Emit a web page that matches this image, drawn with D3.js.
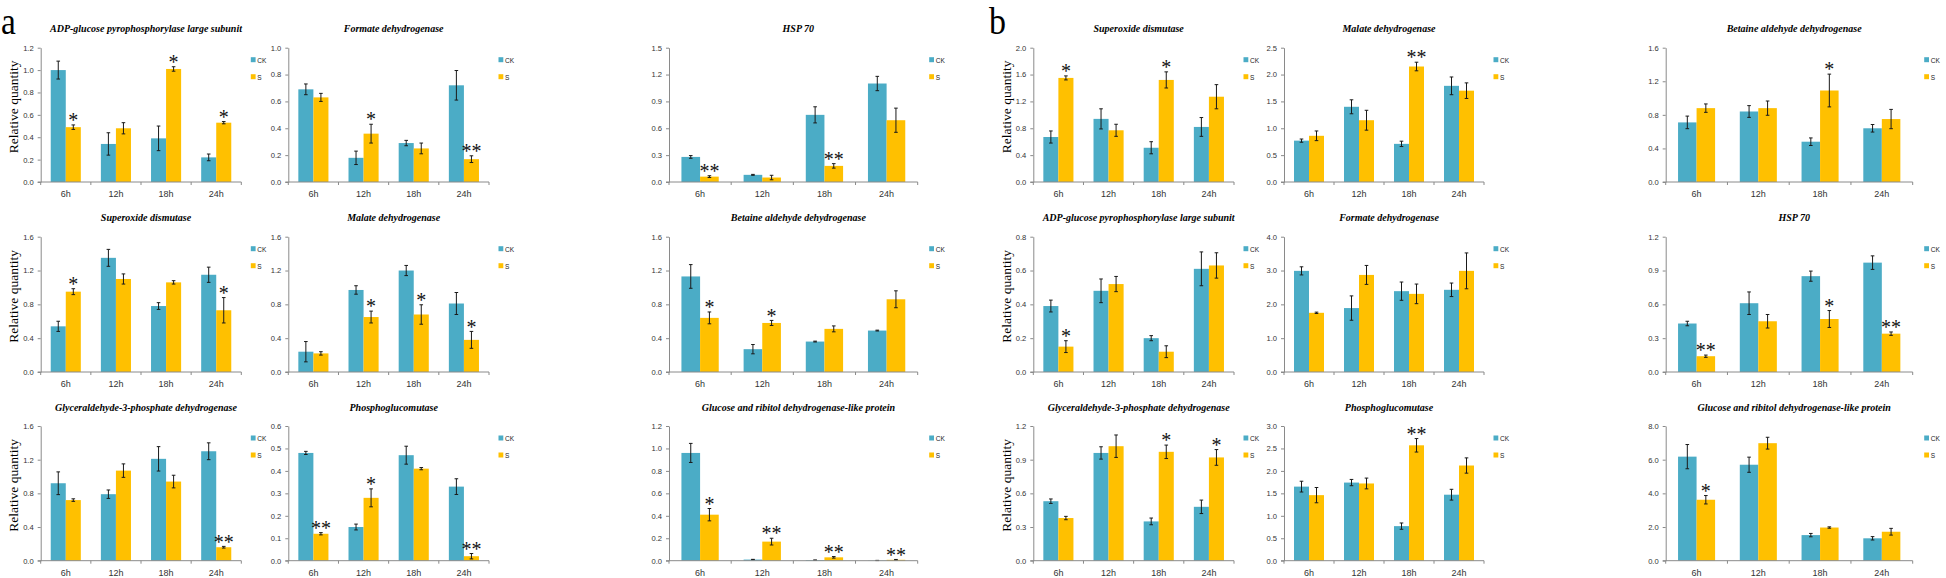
<!DOCTYPE html>
<html>
<head>
<meta charset="utf-8">
<script src="https://cdn.jsdelivr.net/npm/d3@7"></script>
<style>
  html, body { margin: 0; padding: 0; background: #fff; }
  svg { display: block; }
</style>
</head>
<body>
<script>
// ---------------- DATA ----------------
const categories = ["6h", "12h", "18h", "24h"];
const seriesNames = ["CK", "S"];
const partLabels = ["a", "b"];

const panelTitles = [
  "ADP-glucose pyrophosphorylase large subunit", "Formate dehydrogenase", "HSP 70",
  "Superoxide dismutase", "Malate dehydrogenase", "Betaine aldehyde dehydrogenase",
  "Glyceraldehyde-3-phosphate dehydrogenase", "Phosphoglucomutase", "Glucose and ribitol dehydrogenase-like protein",
  "Superoxide dismutase", "Malate dehydrogenase", "Betaine aldehyde dehydrogenase",
  "ADP-glucose pyrophosphorylase large subunit", "Formate dehydrogenase", "HSP 70",
  "Glyceraldehyde-3-phosphate dehydrogenase", "Phosphoglucomutase", "Glucose and ribitol dehydrogenase-like protein"
];

const axisMax  = [1.2, 1.0, 1.5, 1.6, 1.6, 1.6, 1.6, 0.6, 1.2,
                  2.0, 2.5, 1.6, 0.8, 4.0, 1.2, 1.2, 3.0, 8.0];
const axisStep = [0.2, 0.2, 0.3, 0.4, 0.4, 0.4, 0.4, 0.1, 0.2,
                  0.4, 0.5, 0.4, 0.2, 1.0, 0.3, 0.3, 0.5, 2.0];

const ckValues = [
  [1.00, 0.34, 0.39, 0.22],
  [0.69, 0.18, 0.29, 0.72],
  [0.28, 0.08, 0.75, 1.10],
  [0.54, 1.35, 0.78, 1.15],
  [0.24, 0.97, 1.20, 0.81],
  [1.13, 0.27, 0.36, 0.49],
  [0.92, 0.79, 1.21, 1.30],
  [0.48, 0.15, 0.47, 0.33],
  [0.96, 0.010, 0.005, 0.002],
  [0.67, 0.94, 0.51, 0.82],
  [0.77, 1.40, 0.71, 1.79],
  [0.71, 0.84, 0.48, 0.64],
  [0.39, 0.48, 0.20, 0.61],
  [2.99, 1.89, 2.39, 2.43],
  [0.43, 0.61, 0.85, 0.97],
  [0.53, 0.96, 0.35, 0.48],
  [1.65, 1.74, 0.77, 1.47],
  [6.18, 5.70, 1.52, 1.33]
];
const ckErrors = [
  [0.08, 0.10, 0.11, 0.03],
  [0.04, 0.05, 0.02, 0.11],
  [0.015, 0.005, 0.09, 0.08],
  [0.06, 0.10, 0.04, 0.09],
  [0.12, 0.05, 0.06, 0.13],
  [0.14, 0.055, 0.005, 0.005],
  [0.135, 0.05, 0.145, 0.10],
  [0.007, 0.013, 0.04, 0.035],
  [0.085, 0.002, 0.001, 0.001],
  [0.09, 0.15, 0.09, 0.14],
  [0.03, 0.13, 0.05, 0.165],
  [0.075, 0.07, 0.045, 0.045],
  [0.035, 0.07, 0.015, 0.10],
  [0.12, 0.36, 0.27, 0.20],
  [0.02, 0.10, 0.045, 0.06],
  [0.02, 0.055, 0.03, 0.06],
  [0.12, 0.07, 0.07, 0.12],
  [0.72, 0.45, 0.10, 0.10]
];
const sValues = [
  [0.49, 0.48, 1.01, 0.53],
  [0.63, 0.36, 0.25, 0.17],
  [0.06, 0.05, 0.18, 0.69],
  [0.95, 1.10, 1.06, 0.73],
  [0.22, 0.65, 0.68, 0.38],
  [0.64, 0.58, 0.51, 0.86],
  [0.72, 1.07, 0.94, 0.16],
  [0.12, 0.28, 0.41, 0.02],
  [0.41, 0.17, 0.03, 0.008],
  [1.55, 0.77, 1.52, 1.27],
  [0.86, 1.15, 2.15, 1.70],
  [0.88, 0.88, 1.09, 0.75],
  [0.15, 0.52, 0.12, 0.63],
  [1.75, 2.87, 2.31, 2.99],
  [0.14, 0.45, 0.47, 0.34],
  [0.38, 1.02, 0.97, 0.92],
  [1.46, 1.72, 2.57, 2.12],
  [3.62, 6.98, 1.97, 1.72]
];
const sErrors = [
  [0.02, 0.05, 0.02, 0.01],
  [0.03, 0.07, 0.04, 0.025],
  [0.01, 0.025, 0.025, 0.135],
  [0.035, 0.06, 0.02, 0.15],
  [0.02, 0.07, 0.115, 0.10],
  [0.07, 0.03, 0.035, 0.10],
  [0.015, 0.08, 0.075, 0.01],
  [0.005, 0.04, 0.005, 0.012],
  [0.055, 0.03, 0.007, 0.003],
  [0.03, 0.09, 0.12, 0.18],
  [0.09, 0.185, 0.08, 0.145],
  [0.05, 0.085, 0.195, 0.115],
  [0.035, 0.045, 0.035, 0.075],
  [0.02, 0.28, 0.29, 0.53],
  [0.01, 0.06, 0.075, 0.015],
  [0.015, 0.10, 0.06, 0.07],
  [0.17, 0.12, 0.15, 0.17],
  [0.25, 0.35, 0.04, 0.20]
];
const sMarks = [
  ["*", "", "*", "*"],
  ["", "*", "", "**"],
  ["**", "", "**", ""],
  ["*", "", "", "*"],
  ["", "*", "*", "*"],
  ["*", "*", "", ""],
  ["", "", "", "**"],
  ["**", "*", "", "**"],
  ["*", "**", "**", "**"],
  ["*", "", "*", ""],
  ["", "", "**", ""],
  ["", "", "*", ""],
  ["*", "", "", ""],
  ["", "", "", ""],
  ["**", "", "*", "**"],
  ["", "", "*", "*"],
  ["", "", "**", ""],
  ["*", "", "", ""]
];

// ---------------- LAYOUT ----------------
const W = 1946, H = 578;
const colX = [[40.7, 241.3], [288.3, 489], [669, 917.7], [1033.3, 1234], [1284, 1484], [1665.7, 1912.7]];
const rowY = [[47.7, 182], [236.7, 372], [426, 560.7]];
const colors = { CK: "#4BACC6", S: "#FFC000" };
const axisColor = "#8a8a8a";

const svg = d3.select("body").append("svg").attr("width", W).attr("height", H)
  .style("background", "#fff");

// part letters
[[1, partLabels[0], 0.9], [989, partLabels[1], 0.92]].forEach(([lx, t, sx]) => {
  svg.append("text")
    .attr("transform", `translate(${lx},33.5) scale(${sx},1)`)
    .attr("font-family", "Liberation Serif").attr("font-size", 37).attr("fill", "#000")
    .text(t);
});

panelTitles.forEach((title, p) => {
  const part = Math.floor(p / 9);
  const within = p % 9;
  const row = Math.floor(within / 3);
  const col = (within % 3) + part * 3;
  const [x0, x1] = colX[col];
  const [yt, yb] = rowY[row];

  const g = svg.append("g");

  const x = d3.scaleBand().domain(categories).range([x0, x1]).paddingInner(0.4).paddingOuter(0.2);
  const xs = d3.scaleBand().domain(seriesNames).range([0, x.bandwidth()]);
  const y = d3.scaleLinear().domain([0, axisMax[p]]).range([yb, yt]);
  const ticks = d3.range(0, axisMax[p] + axisStep[p] / 2, axisStep[p]);

  const rows = [];
  categories.forEach((c, i) => {
    rows.push({ c, s: "CK", v: ckValues[p][i], e: ckErrors[p][i], m: "" });
    rows.push({ c, s: "S", v: sValues[p][i], e: sErrors[p][i], m: sMarks[p][i] });
  });
  const bx = d => x(d.c) + xs(d.s) + xs.bandwidth() / 2;

  // bars
  g.selectAll("rect.bar").data(rows).join("rect")
    .attr("class", "bar")
    .attr("x", d => x(d.c) + xs(d.s))
    .attr("width", xs.bandwidth())
    .attr("y", d => y(d.v))
    .attr("height", d => y(0) - y(d.v))
    .attr("fill", d => colors[d.s]);

  // error bars
  const cap = 1.8;
  const eg = g.selectAll("g.err").data(rows).join("g").attr("class", "err")
    .attr("stroke", "#1a1a1a").attr("stroke-width", 1);
  eg.append("line")
    .attr("x1", bx).attr("x2", bx)
    .attr("y1", d => y(Math.max(0, d.v - d.e)))
    .attr("y2", d => y(d.v + d.e));
  eg.append("line")
    .attr("x1", d => bx(d) - cap).attr("x2", d => bx(d) + cap)
    .attr("y1", d => y(d.v + d.e)).attr("y2", d => y(d.v + d.e));
  eg.append("line")
    .attr("x1", d => bx(d) - cap).attr("x2", d => bx(d) + cap)
    .attr("y1", d => y(Math.max(0, d.v - d.e))).attr("y2", d => y(Math.max(0, d.v - d.e)));

  // significance marks
  g.selectAll("text.mark").data(rows.filter(d => d.m)).join("text")
    .attr("class", "mark")
    .attr("x", bx)
    .attr("y", d => y(d.v + d.e) + 2.2)
    .attr("text-anchor", "middle")
    .attr("font-family", "Liberation Serif")
    .attr("font-size", 20)
    .attr("fill", "#111")
    .text(d => d.m);

  // y axis
  const ya = g.append("g").attr("transform", `translate(${x0},0)`)
    .call(d3.axisLeft(y).tickValues(ticks).tickFormat(d3.format(".1f")).tickSize(3).tickSizeOuter(0).tickPadding(4));
  ya.select(".domain").attr("stroke", axisColor);
  ya.selectAll(".tick line").attr("stroke", axisColor);
  ya.selectAll(".tick text").attr("font-family", "Liberation Sans").attr("font-size", 7.6).attr("fill", "#333");

  // x axis
  const xa = g.append("g").attr("transform", `translate(0,${yb})`)
    .call(d3.axisBottom(x).tickSize(0).tickPadding(9));
  xa.select(".domain").remove();
  xa.selectAll(".tick text").attr("font-family", "Liberation Sans").attr("font-size", 9).attr("fill", "#333");
  g.append("line").attr("x1", x0 - 3).attr("x2", x1).attr("y1", yb).attr("y2", yb).attr("stroke", axisColor);
  const bounds = d3.range(categories.length + 1).map(i => x.range()[0] + i * x.step());
  g.selectAll("line.sep").data(bounds).join("line").attr("class", "sep")
    .attr("x1", d => d).attr("x2", d => d).attr("y1", yb).attr("y2", yb + 3).attr("stroke", axisColor);

  // title (centred over the plot)
  const cx = (x0 + x1) / 2 + 5;
  g.append("text").attr("x", cx).attr("y", yt - 15.4).attr("text-anchor", "middle")
    .attr("font-family", "Liberation Serif").attr("font-weight", "bold").attr("font-style", "italic")
    .attr("font-size", 10).attr("fill", "#000").text(title);

  // y label
  if (within % 3 === 0) {
    const lx = x0 - 22.5, ly = (yt + yb) / 2 - 8;
    g.append("text").attr("transform", `translate(${lx},${ly}) rotate(-90)`)
      .attr("text-anchor", "middle")
      .attr("font-family", "Liberation Serif").attr("font-size", 13.5)
      .attr("fill", "#000").text("Relative quantity");
  }

  // legend
  const lgx = x1 + (col % 3 === 2 ? 11.5 : 9.5);
  seriesNames.forEach((s, i) => {
    const ly = yt + 12 + i * 17;
    g.append("rect").attr("x", lgx).attr("y", ly - 2.5).attr("width", 4.8).attr("height", 5).attr("fill", colors[s]);
    g.append("text").attr("transform", `translate(${lgx + 6.5},${ly + 2.8}) scale(0.82,1)`)
      .attr("font-family", "Liberation Sans").attr("font-size", 8).attr("fill", "#222").text(s);
  });
});
</script>
</body>
</html>
